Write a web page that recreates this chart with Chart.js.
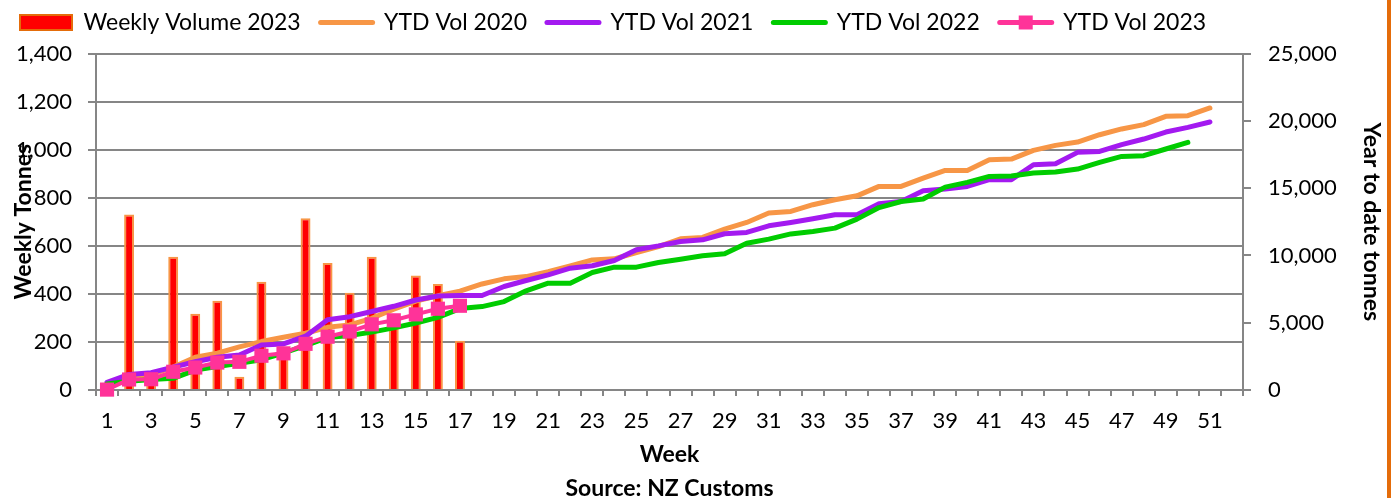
<!DOCTYPE html>
<html>
<head>
<meta charset="utf-8">
<script src="https://cdn.jsdelivr.net/npm/chart.js@4.4.0/dist/chart.umd.min.js"></script>
<style>
  html, body { margin: 0; padding: 0; background: #fff; }
  #wrap { position: relative; width: 1396px; height: 498px; }
  #edge { position: absolute; left: 1387px; top: 0; width: 4px; height: 498px; background: #E46C0A; }
</style>
</head>
<body>
<div id="wrap">
  <canvas id="volChart"></canvas>
  <div id="edge"></div>
</div>
<script>
const weeks = ['1','2','3','4','5','6','7','8','9','10','11','12','13','14','15','16','17','18','19','20',
  '21','22','23','24','25','26','27','28','29','30','31','32','33','34','35','36','37','38','39','40',
  '41','42','43','44','45','46','47','48','49','50','51','52'];

// weekly tonnes 2023 (left axis)
const weekly2023 = [30, 730, 40, 555, 317, 371, 55, 450, 180, 715, 529, 405, 555, 300, 476, 441, 205];

// year to date tonnes (right axis)
const ytd2020 = [450, 950, 1150, 1700, 2430, 2730, 3200, 3600, 3920, 4220, 4660, 4840, 5330, 6000, 6600, 7000, 7350, 7880, 8260, 8430,
  8800, 9230, 9670, 9750, 10220, 10660, 11240, 11340, 11950, 12450, 13150, 13270, 13770, 14140, 14430, 15130, 15130, 15750, 16320, 16320,
  17110, 17160, 17810, 18180, 18430, 18970, 19400, 19720, 20340, 20390, 20960, null];
const ytd2021 = [570, 1160, 1290, 1700, 2100, 2430, 2600, 3340, 3420, 4000, 5220, 5450, 5830, 6220, 6690, 6990, 7020, 7020, 7690, 8140,
  8560, 9050, 9230, 9620, 10420, 10710, 11040, 11160, 11610, 11710, 12200, 12450, 12720, 13020, 13020, 13840, 14010, 14810, 14930, 15130,
  15630, 15630, 16740, 16820, 17660, 17730, 18230, 18650, 19170, 19520, 19920, null];
const ytd2022 = [450, 650, 780, 870, 1480, 1740, 1990, 2250, 2750, 3300, 3900, 4050, 4300, 4620, 4980, 5400, 6050, 6200, 6570, 7370,
  7940, 7940, 8730, 9130, 9130, 9470, 9720, 9970, 10120, 10910, 11210, 11600, 11780, 12030, 12700, 13560, 14010, 14190, 15080, 15430,
  15870, 15900, 16120, 16200, 16420, 16910, 17360, 17410, 17910, 18400, null, null];
const ytd2023 = [30, 780, 800, 1355, 1670, 2040, 2095, 2545, 2725, 3430, 3960, 4350, 4880, 5180, 5620, 6040, 6260];

const gridGrey = '#868686';
const fontFamily = 'Lato, sans-serif';

// square marker on the 2023 legend sample
const legendMarker = {
  id: 'legendMarker',
  afterDraw(chart) {
    const box = chart.legend.legendHitBoxes[4];
    if (!box) return;
    const ctx = chart.ctx;
    const cx = box.left + 26;
    const cy = box.top + 11.5;
    ctx.save();
    ctx.fillStyle = '#FF3399';
    ctx.fillRect(cx - 7, cy - 7, 14, 14);
    ctx.restore();
  }
};

const ctx = document.getElementById('volChart').getContext('2d');
const volChart = new Chart(ctx, {
  data: {
    labels: weeks,
    datasets: [
      {
        type: 'bar',
        label: 'Weekly Volume 2023',
        data: weekly2023,
        yAxisID: 'y',
        backgroundColor: '#FF0000',
        borderColor: '#F79646',
        borderWidth: 2,
        barPercentage: 0.45,
        categoryPercentage: 1,
        order: 5
      },
      {
        type: 'line',
        label: 'YTD Vol 2020',
        data: ytd2020,
        yAxisID: 'y1',
        borderColor: '#F79646',
        backgroundColor: '#F79646',
        borderWidth: 5,
        pointRadius: 0,
        borderJoinStyle: 'round',
        borderCapStyle: 'round',
        order: 4
      },
      {
        type: 'line',
        label: 'YTD Vol 2021',
        data: ytd2021,
        yAxisID: 'y1',
        borderColor: '#A31AF0',
        backgroundColor: '#A31AF0',
        borderWidth: 5,
        pointRadius: 0,
        borderJoinStyle: 'round',
        borderCapStyle: 'round',
        order: 3
      },
      {
        type: 'line',
        label: 'YTD Vol 2022',
        data: ytd2022,
        yAxisID: 'y1',
        borderColor: '#00CC00',
        backgroundColor: '#00CC00',
        borderWidth: 5,
        pointRadius: 0,
        borderJoinStyle: 'round',
        borderCapStyle: 'round',
        order: 2
      },
      {
        type: 'line',
        label: 'YTD Vol 2023',
        data: ytd2023,
        yAxisID: 'y1',
        borderColor: '#FF3399',
        backgroundColor: '#FF3399',
        borderWidth: 4,
        pointStyle: 'rect',
        pointRadius: 10,
        pointBorderWidth: 0,
        clip: false,
        order: 1
      }
    ]
  },
  options: {
    responsive: true,
    maintainAspectRatio: false,
    animation: false,
    layout: { padding: { left: 0, right: 6, top: -9, bottom: 0 } },
    plugins: {
      tooltip: { enabled: false },
      // empty title used as a spacer between legend and plot
      title: { display: true, text: '', weight: 500, font: { size: 8 }, padding: 0 },
      legend: {
        position: 'top',
        align: 'start',
        labels: {
          usePointStyle: true,
          pointStyleWidth: 52,
          boxHeight: 15,
          padding: 20,
          color: '#000',
          font: { family: fontFamily, size: 23 },
          sort: (a, b) => a.datasetIndex - b.datasetIndex,
          generateLabels(chart) {
            const items = Chart.defaults.plugins.legend.labels.generateLabels(chart);
            items.forEach(it => {
              const ds = chart.data.datasets[it.datasetIndex];
              if (ds.type === 'line') {
                it.pointStyle = 'line';
                it.lineWidth = 5;
                it.strokeStyle = ds.borderColor;
                it.lineCap = 'round';
              } else {
                it.pointStyle = 'rect';
                it.lineWidth = 2;
                it.fillStyle = '#FF0000';
                it.strokeStyle = '#E46C0A';
              }
            });
            return items;
          }
        }
      }
    },
    scales: {
      x: {
        offset: true,
        afterFit: s => { s.height = 108; },
        grid: { offset: true, drawOnChartArea: false, drawTicks: true, tickLength: 6, color: gridGrey, lineWidth: 2 },
        border: { display: true, color: gridGrey, width: 2 },
        ticks: {
          autoSkip: false,
          maxRotation: 0,
          padding: 12,
          color: '#000',
          font: { family: fontFamily, size: 22 },
          callback: (v, i) => (i % 2 === 0 ? weeks[i] : '')
        },
        title: {
          display: true,
          text: ['Week', 'Source: NZ Customs'],
          color: '#000',
          font: { family: fontFamily, size: 23, weight: 'bold', lineHeight: 1.45 },
          padding: { top: 2, bottom: -7 }
        }
      },
      y: {
        position: 'left',
        min: 0,
        max: 1400,
        afterFit: s => { s.width = 96; },
        ticks: {
          stepSize: 200,
          padding: 16,
          color: '#000',
          font: { family: fontFamily, size: 22 },
          callback: v => v.toLocaleString('en-US')
        },
        grid: { color: gridGrey, lineWidth: 2, tickLength: 8 },
        border: { display: true, color: gridGrey, width: 2 },
        title: {
          display: true,
          text: 'Weekly Tonnes',
          color: '#000',
          font: { family: fontFamily, size: 23, weight: 'bold' },
          padding: { top: 10, bottom: 0 }
        }
      },
      y1: {
        position: 'right',
        min: 0,
        max: 25000,
        afterFit: s => { s.width = 147; },
        ticks: {
          stepSize: 5000,
          padding: 17,
          color: '#000',
          font: { family: fontFamily, size: 22 },
          callback: v => v.toLocaleString('en-US')
        },
        grid: { drawOnChartArea: false, color: gridGrey, lineWidth: 2, tickLength: 8 },
        border: { display: true, color: gridGrey, width: 2 },
        title: {
          display: true,
          text: 'Year to date tonnes',
          color: '#000',
          font: { family: fontFamily, size: 23, weight: 'bold' },
          padding: { top: 5, bottom: 18 }
        }
      }
    }
  },
  plugins: [legendMarker]
});
</script>
</body>
</html>
